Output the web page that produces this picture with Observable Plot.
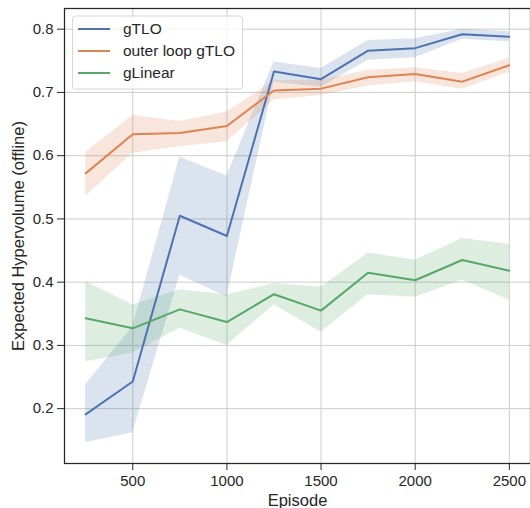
<!DOCTYPE html>
<html><head><meta charset="utf-8">
<script src="https://cdn.jsdelivr.net/npm/d3@7"></script>
<script src="https://cdn.jsdelivr.net/npm/@observablehq/plot@0.6"></script>
<style>body{margin:0;background:#fff} #chart{width:530px;height:508px}</style>
</head><body><div id="chart"></div>
<script>
const episodes = [250, 500, 750, 1000, 1250, 1500, 1750, 2000, 2250, 2500];
const seriesNames = ["gTLO", "outer loop gTLO", "gLinear"];
const seriesColors = ["#4c72b0", "#dd8452", "#55a868"];

const gtloMean = [0.191, 0.243, 0.505, 0.473, 0.733, 0.721, 0.766, 0.770, 0.792, 0.788];
const gtloLo   = [0.146, 0.162, 0.411, 0.377, 0.716, 0.708, 0.751, 0.755, 0.784, 0.780];
const gtloHi   = [0.238, 0.330, 0.598, 0.568, 0.748, 0.738, 0.782, 0.785, 0.800, 0.796];

const outerMean = [0.572, 0.634, 0.636, 0.647, 0.703, 0.706, 0.724, 0.729, 0.717, 0.743];
const outerLo   = [0.536, 0.604, 0.614, 0.622, 0.688, 0.695, 0.710, 0.717, 0.705, 0.732];
const outerHi   = [0.605, 0.664, 0.654, 0.669, 0.718, 0.719, 0.735, 0.739, 0.730, 0.754];

const linMean = [0.343, 0.327, 0.357, 0.337, 0.381, 0.355, 0.415, 0.403, 0.435, 0.418];
const linLo   = [0.274, 0.288, 0.327, 0.300, 0.364, 0.321, 0.380, 0.376, 0.403, 0.372];
const linHi   = [0.401, 0.364, 0.388, 0.380, 0.398, 0.392, 0.446, 0.435, 0.469, 0.460];

const xTicks = [500, 1000, 1500, 2000, 2500];
const yTicks = [0.2, 0.3, 0.4, 0.5, 0.6, 0.7, 0.8];
const xLabel = "Episode";
const yLabel = "Expected Hypervolume (offline)";

const seriesData = [
  [gtloMean, gtloLo, gtloHi],
  [outerMean, outerLo, outerHi],
  [linMean, linLo, linHi]
];
const rows = [];
seriesData.forEach(([m, lo, hi], si) => {
  episodes.forEach((e, i) => rows.push({series: seriesNames[si], episode: e, mean: m[i], lo: lo[i], hi: hi[i]}));
});

const FONT = "'Liberation Sans', Arial, sans-serif";
const plot = Plot.plot({
  width: 530, height: 508,
  marginLeft: 64, marginRight: 0, marginTop: 8, marginBottom: 45,
  style: {fontFamily: FONT, fontSize: "15px", color: "#262626", background: "#fff", overflow: "visible"},
  x: {domain: [137.5, 2612.5]},
  y: {domain: [0.1133, 0.8327]},
  color: {domain: seriesNames, range: seriesColors},
  marks: [
    Plot.gridX(xTicks, {stroke: "#cccccc", strokeOpacity: 1, strokeWidth: 1}),
    Plot.gridY(yTicks, {stroke: "#cccccc", strokeOpacity: 1, strokeWidth: 1}),
    Plot.areaY(rows, {x: "episode", y1: "lo", y2: "hi", z: "series", fill: "series", fillOpacity: 0.2}),
    Plot.lineY(rows, {x: "episode", y: "mean", z: "series", stroke: "series", strokeWidth: 2}),
    Plot.frame({stroke: "#262626", strokeWidth: 1.25}),
    Plot.axisX(xTicks, {tickSize: 7, tickPadding: 5, fontSize: 15, tickFormat: d3.format("d"), label: null}),
    Plot.axisY(yTicks, {tickSize: 7, tickPadding: 4, fontSize: 15, tickFormat: d3.format(".1f"), label: null}),
    Plot.text([xLabel], {text: d => d, frameAnchor: "bottom", lineAnchor: "middle", textAnchor: "middle", dy: 37, fontSize: 16.5, fill: "#262626"}),
    Plot.text([yLabel], {text: d => d, frameAnchor: "left", lineAnchor: "middle", textAnchor: "middle", rotate: -90, dx: -46, fontSize: 16.5, fill: "#262626"})
  ]
});
document.getElementById("chart").append(plot);

// legend
const svg = d3.select(plot);
const lg = svg.append("g").attr("font-family", FONT).attr("font-size", 15.5).attr("text-anchor", "start");
lg.append("rect").attr("x", 72.5).attr("y", 16).attr("width", 170).attr("height", 73).attr("rx", 3)
  .attr("fill", "#fff").attr("fill-opacity", 0.8).attr("stroke", "#d6d6d6");
seriesNames.forEach((n, i) => {
  const y = 29 + i * 22;
  lg.append("line").attr("x1", 78).attr("x2", 110).attr("y1", y).attr("y2", y).attr("stroke", seriesColors[i]).attr("stroke-width", 2);
  lg.append("text").attr("x", 123).attr("y", y).attr("dy", "0.35em").attr("text-anchor", "start").attr("fill", "#262626").text(n);
});
</script>
</body></html>
